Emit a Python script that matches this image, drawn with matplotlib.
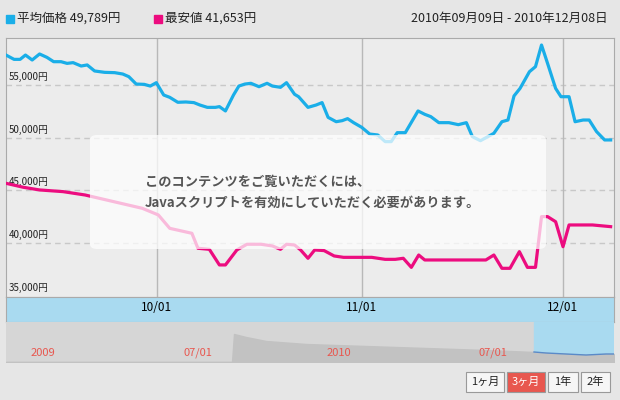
import matplotlib
matplotlib.use("Agg")
import matplotlib.pyplot as plt
from matplotlib.patches import FancyBboxPatch, Rectangle
from matplotlib.ticker import FixedLocator

plt.rcParams["font.family"] = ["Noto Sans CJK JP", "DejaVu Sans"]

# ---- data ----
avg_days = [0.0,1.2,2.1,2.9,3.9,5.0,6.1,7.1,8.2,9.1,10.0,11.2,12.1,13.2,14.7,16.2,17.4,18.3,19.4,20.6,
            21.5,22.4,23.5,24.4,25.6,26.8,28.0,28.9,30.0,31.2,31.8,32.7,33.9,34.7,35.6,36.5,37.7,38.9,39.7,40.9,
            41.8,43.0,43.6,45.0,46.2,47.1,48.0,49.2,50.1,50.9,51.8,53.0,54.2,55.4,56.5,57.4,58.3,59.5,61.4,62.4,
            63.3,64.5,66.0,67.4,68.6,69.5,70.7,71.8,72.7,73.9,74.8,75.7,76.6,78.0,78.9,79.8,80.7,81.9,82.7,83.9,
            84.8,86.0,86.9,88.0,89.2,90.1]
avg_vals = [57840,57430,57430,57840,57370,57940,57620,57210,57210,57050,57120,56800,56900,56330,56200,56170,56040,55790,55090,55060,
            54900,55220,54050,53830,53360,53390,53330,53100,52880,52880,52950,52540,54050,54900,55090,55160,54840,55160,54900,54780,
            55220,54120,53890,52880,53100,53330,51930,51520,51620,51810,51430,50990,50350,50260,49630,49630,50480,50480,52540,52220,
            52000,51430,51430,51240,51430,50100,49720,50100,50420,51520,51680,53960,54680,56260,56740,58790,57050,54680,53890,53890,
            51520,51680,51680,50580,49790,49790]
min_days = [0.0,2.6,5.0,8.5,11.8,20.3,22.7,24.4,27.7,28.6,30.3,31.8,32.7,34.4,35.9,38.0,39.7,40.9,41.8,43.0,43.9,45.0,
            46.0,47.4,48.9,50.3,54.5,56.5,58.0,59.2,60.4,61.5,62.4,71.5,72.7,73.9,75.1,76.5,77.7,78.9,79.8,80.7,81.9,
            83.0,83.9,87.4,90.1]
min_vals = [45680,45300,45050,44890,44570,43310,42680,41410,40940,39520,39420,37940,37940,39360,39900,39900,39740,39420,
            39900,39830,39360,38570,39360,39300,38790,38660,38660,38470,38470,38570,37710,38880,38410,38410,38880,37620,
            37620,39200,37710,37710,42520,42520,42040,39670,41730,41730,41570]
month_ticks = [22.5, 53, 83]
month_labels = ["10/01", "11/01", "12/01"]
y_ticks = [35000, 40000, 45000, 50000, 55000]
y_labels = ["35,000円", "40,000円", "45,000円", "50,000円", "55,000円"]
nav_x = [0, 226, 228, 240, 260, 300, 360, 420, 480, 528, 540, 560, 580, 600, 608]
nav_v = [0, 0, 28, 25, 21, 18, 16, 14, 12, 10, 9, 8, 7, 8, 8]
nav_labels = ["2009", "07/01", "2010", "07/01"]
nav_label_x = [37, 192, 333, 487]
buttons = ["1ヶ月", "3ヶ月", "1年", "2年"]
avg_title = "平均価格 49,789円"
min_title = "最安値 41,653円"
period = "2010年09月09日 - 2010年12月08日"

BLUE = "#1aaee8"
PINK = "#ec0c7f"
W, H = 620, 400

fig = plt.figure(figsize=(6.2, 4.0), dpi=100)
fig.patch.set_facecolor("#e6e6e6")

def rect(x0, y0, x1, y1):
    return [x0 / W, 1 - y1 / H, (x1 - x0) / W, (y1 - y0) / H]

# header
fig.patches.append(Rectangle((6 / W, 1 - 23 / H), 8 / W, 8 / H, transform=fig.transFigure, color=BLUE))
fig.text(17 / W, 1 - 18 / H, avg_title, fontsize=9, va="center", color="#222")
fig.patches.append(Rectangle((154 / W, 1 - 23 / H), 8 / W, 8 / H, transform=fig.transFigure, color=PINK))
fig.text(165 / W, 1 - 18 / H, min_title, fontsize=9, va="center", color="#222")
fig.text(608 / W, 1 - 18 / H, period, fontsize=9, va="center", ha="right", color="#222")

# main
ax = fig.add_axes(rect(6, 38, 614, 297))
ax.set_facecolor("#ececec")
ax.set_xlim(0, 90.6)
ax.set_ylim(34900, 59456)
for v in y_ticks[1:]:
    ax.axhline(v, color="#c8c8c8", lw=1, ls=(0, (4, 3)), zorder=1)
for d in month_ticks:
    ax.axvline(d, color="#b8b8b8", lw=1, zorder=1)
for v, lab in zip(y_ticks, y_labels):
    ax.text(0.4, v + 300, lab, fontsize=7, va="bottom", color="#222", zorder=2)
ax.plot(avg_days, avg_vals, color=BLUE, lw=2.3, zorder=3)
ax.plot(min_days, min_vals, color=PINK, lw=2.3, zorder=3)
ax.set_xticks([]); ax.set_yticks([])
for s in ax.spines.values():
    s.set_color("#aaaaaa")

# overlay
fig.patches.append(FancyBboxPatch((90 / W, 1 - 249 / H), 456 / W, 114 / H, transform=fig.transFigure,
                                  boxstyle="round,pad=0,rounding_size=0.012", fc="white", ec="none",
                                  alpha=0.72, zorder=5))
fig.text(145 / W, 1 - 182 / H, "このコンテンツをご覧いただくには、", fontsize=9.5, color="#555",
         va="center", zorder=6, fontweight="bold")
fig.text(145 / W, 1 - 203 / H, "Javaスクリプトを有効にしていただく必要があります。", fontsize=9.5,
         color="#555", va="center", zorder=6, fontweight="bold")

# band axis
bx = fig.add_axes(rect(6, 297, 614, 322))
bx.set_facecolor("#a9daf0")
bx.set_xlim(0, 90.6); bx.set_ylim(0, 1)
bx.set_yticks([])
bx.xaxis.set_major_locator(FixedLocator(month_ticks))
bx.set_xticklabels(month_labels, fontsize=8.5)
bx.tick_params(axis="x", direction="in", pad=-15, length=0)
for s in bx.spines.values():
    s.set_color("#aaaaaa")

# navigator
nx = fig.add_axes(rect(6, 322, 614, 362))
nx.set_facecolor("#ececec")
nx.set_xlim(0, 608); nx.set_ylim(0, 40)
nx.axvspan(0, 528, color="#d6d6d6", zorder=0)
nx.axvspan(528, 608, color="#a9daf0", zorder=0)
nx.fill_between(nav_x, nav_v, color="#c2c2c2", zorder=1)
nx.plot(nav_x[9:], nav_v[9:], color="#5a8ac8", lw=1, zorder=2)
for xx, lab in zip(nav_label_x, nav_labels):
    nx.text(xx, 9, lab, fontsize=8, color="#e8574f", ha="center", va="center", zorder=3)
nx.set_xticks([]); nx.set_yticks([])
for s in nx.spines.values():
    s.set_visible(False)

# buttons
bpos = [(466, 504), (507, 545), (548, 578), (581, 610)]
for (x0, x1), lab in zip(bpos, buttons):
    sel = lab == "3ヶ月"
    fig.patches.append(Rectangle((x0 / W, 1 - 392 / H), (x1 - x0) / W, 20 / H, transform=fig.transFigure,
                                 fc="#e8574f" if sel else "#f6f6f6", ec="#999999", lw=0.8))
    fig.text((x0 + x1) / 2 / W, 1 - 382 / H, lab, fontsize=8, ha="center", va="center",
             color="white" if sel else "#222")

fig.savefig("out.png", dpi=100, facecolor=fig.get_facecolor())
